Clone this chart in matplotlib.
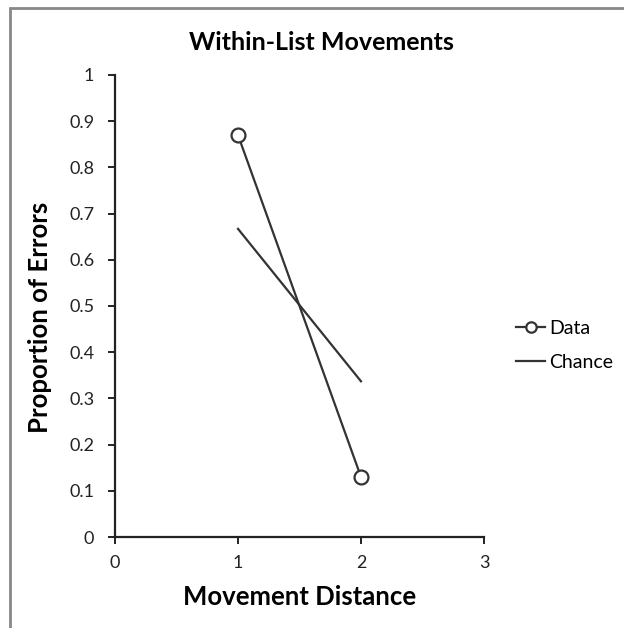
import matplotlib.pyplot as plt
from matplotlib.patches import Rectangle

plt.rcParams['font.family'] = ['Lato', 'DejaVu Sans']

distance = [1, 2]
data_vals = [0.87, 0.13]
chance_vals = [0.667, 0.337]

fig = plt.figure(figsize=(6.24, 6.28), dpi=100)
ax = fig.add_axes([0.1843, 0.1449, 0.5913, 0.7357])

ax.plot(distance, data_vals, color='#333333', lw=1.6, marker='o', ms=10,
        mfc='white', mec='#333333', mew=1.6, label='Data', zorder=3)
ax.plot(distance, chance_vals, color='#333333', lw=1.6, label='Chance')

ax.set_xlim(0, 3)
ax.set_ylim(0, 1)
ax.set_xticks([0, 1, 2, 3])
ax.set_yticks([0, 0.1, 0.2, 0.3, 0.4, 0.5, 0.6, 0.7, 0.8, 0.9, 1])
ax.set_yticklabels(['0', '0.1', '0.2', '0.3', '0.4', '0.5', '0.6', '0.7', '0.8', '0.9', '1'])
ax.spines['top'].set_visible(False)
ax.spines['right'].set_visible(False)
for s in ['left', 'bottom']:
    ax.spines[s].set_linewidth(1.6)
    ax.spines[s].set_color('#222222')
ax.tick_params(direction='out', length=5, width=1.4, labelsize=13, colors='#222222')
ax.tick_params(axis='x', pad=8)
ax.tick_params(axis='y', pad=10)

ax.set_title('Within-List Movements', fontsize=18, fontweight='bold', pad=18, x=0.56)
ax.set_xlabel('Movement Distance', fontsize=18.5, fontweight='bold', labelpad=10)
ax.set_ylabel('Proportion of Errors', fontsize=18.5, fontweight='bold', labelpad=12)
ax.yaxis.set_label_coords(-0.172, 0.475)

ax.legend(loc='center left', bbox_to_anchor=(1.04, 0.415), frameon=False,
          fontsize=14, handlelength=1.5, handletextpad=0.2, labelspacing=0.9,
          markerscale=0.75)

fig.patches.append(Rectangle((0.016, -0.05), 1.1, 1.037, transform=fig.transFigure,
                             fill=False, ec='#888888', lw=2))

fig.savefig('out.png', dpi=100)
